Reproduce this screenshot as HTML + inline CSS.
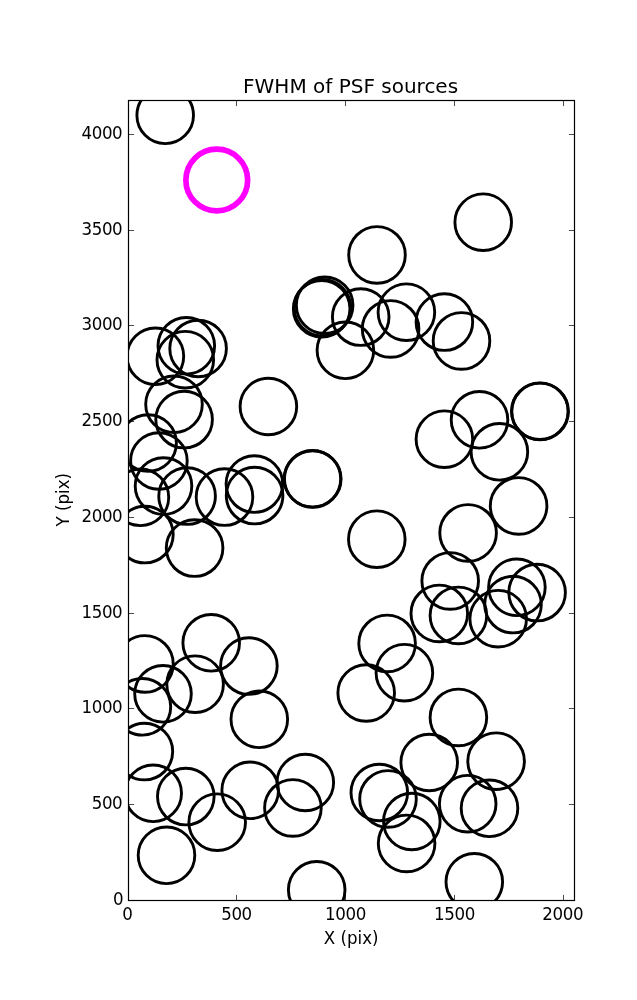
<!DOCTYPE html>
<html lang="en"><head><meta charset="utf-8"><title>FWHM of PSF sources</title>
<style>
html,body{margin:0;padding:0;background:#fff;}
body{width:637px;height:1000px;overflow:hidden;}
svg{display:block;}
text{font-family:"DejaVu Sans","Liberation Sans",sans-serif;fill:#000;}
.tk{font-size:16.67px;letter-spacing:-0.4px;}
.lb{font-size:16.67px;}
.tt{font-size:20px;}
</style></head><body>
<svg width="637" height="1000" viewBox="0 0 637 1000">
<rect x="0" y="0" width="637" height="1000" fill="#ffffff"/>
<defs><clipPath id="ax"><rect x="128" y="100" width="446.5" height="800.5"/></clipPath></defs>
<g clip-path="url(#ax)" fill="none" stroke="#000" stroke-width="2.9">
<circle cx="165.20" cy="115.30" r="28.3"/>
<circle cx="155.40" cy="356.30" r="28.3"/>
<circle cx="186.30" cy="345.80" r="28.3"/>
<circle cx="198.10" cy="348.50" r="28.3"/>
<circle cx="185.30" cy="359.70" r="28.3"/>
<circle cx="174.00" cy="404.30" r="28.3"/>
<circle cx="184.10" cy="419.60" r="28.3"/>
<circle cx="268.40" cy="406.50" r="28.3"/>
<circle cx="148.10" cy="443.00" r="28.3"/>
<circle cx="158.90" cy="461.00" r="28.3"/>
<circle cx="163.50" cy="486.10" r="28.3"/>
<circle cx="140.40" cy="497.30" r="28.3"/>
<circle cx="187.10" cy="496.10" r="28.3"/>
<circle cx="224.50" cy="497.10" r="28.3"/>
<circle cx="254.40" cy="484.10" r="28.3"/>
<circle cx="254.60" cy="495.60" r="28.3"/>
<circle cx="144.90" cy="534.60" r="28.3"/>
<circle cx="194.60" cy="548.10" r="28.3"/>
<circle cx="144.90" cy="663.90" r="28.3"/>
<circle cx="211.20" cy="642.80" r="28.3"/>
<circle cx="248.90" cy="666.10" r="28.3"/>
<circle cx="195.10" cy="684.20" r="28.3"/>
<circle cx="163.00" cy="693.80" r="28.3"/>
<circle cx="142.40" cy="706.80" r="28.3"/>
<circle cx="259.30" cy="719.30" r="28.3"/>
<circle cx="144.40" cy="751.60" r="28.3"/>
<circle cx="153.20" cy="793.30" r="28.3"/>
<circle cx="185.80" cy="796.60" r="28.3"/>
<circle cx="217.20" cy="822.20" r="28.3"/>
<circle cx="250.20" cy="790.30" r="28.3"/>
<circle cx="166.50" cy="855.30" r="28.3"/>
<circle cx="377.00" cy="254.90" r="28.3"/>
<circle cx="321.65" cy="308.75" r="28.3"/>
<circle cx="322.50" cy="307.80" r="28.3"/>
<circle cx="324.65" cy="305.25" r="28.3"/>
<circle cx="360.70" cy="317.10" r="28.3"/>
<circle cx="345.40" cy="350.30" r="28.3"/>
<circle cx="390.60" cy="328.90" r="28.3"/>
<circle cx="406.40" cy="312.20" r="28.3"/>
<circle cx="444.40" cy="322.10" r="28.3"/>
<circle cx="461.50" cy="340.90" r="28.3"/>
<circle cx="312.45" cy="478.80" r="28.3"/>
<circle cx="312.75" cy="479.00" r="28.3"/>
<circle cx="376.80" cy="539.20" r="28.3"/>
<circle cx="387.10" cy="643.40" r="28.3"/>
<circle cx="404.40" cy="672.70" r="28.3"/>
<circle cx="366.20" cy="693.00" r="28.3"/>
<circle cx="305.30" cy="782.50" r="28.3"/>
<circle cx="292.90" cy="807.90" r="28.3"/>
<circle cx="379.30" cy="792.50" r="28.3"/>
<circle cx="388.00" cy="798.90" r="28.3"/>
<circle cx="411.80" cy="821.50" r="28.3"/>
<circle cx="406.60" cy="843.40" r="28.3"/>
<circle cx="316.70" cy="889.80" r="28.3"/>
<circle cx="483.20" cy="222.20" r="28.3"/>
<circle cx="539.80" cy="411.20" r="28.3"/>
<circle cx="540.10" cy="411.40" r="28.3"/>
<circle cx="479.50" cy="419.80" r="28.3"/>
<circle cx="444.40" cy="439.20" r="28.3"/>
<circle cx="499.40" cy="451.80" r="28.3"/>
<circle cx="518.60" cy="505.90" r="28.3"/>
<circle cx="468.10" cy="532.90" r="28.3"/>
<circle cx="450.20" cy="580.90" r="28.3"/>
<circle cx="516.90" cy="587.30" r="28.3"/>
<circle cx="537.10" cy="592.60" r="28.3"/>
<circle cx="513.00" cy="604.60" r="28.3"/>
<circle cx="498.20" cy="618.70" r="28.3"/>
<circle cx="458.40" cy="615.40" r="28.3"/>
<circle cx="439.30" cy="613.40" r="28.3"/>
<circle cx="458.40" cy="717.40" r="28.3"/>
<circle cx="496.10" cy="761.20" r="28.3"/>
<circle cx="429.20" cy="762.50" r="28.3"/>
<circle cx="467.70" cy="803.70" r="28.3"/>
<circle cx="489.50" cy="808.30" r="28.3"/>
<circle cx="474.30" cy="881.80" r="28.3"/>
<circle cx="216.75" cy="180.00" r="30.9" stroke="#ff00ff" stroke-width="5.7"/>
</g>
<g stroke="#000" stroke-width="0.7" fill="none">
<line x1="128.5" y1="900.5" x2="128.5" y2="894.9"/>
<line x1="128.5" y1="100.5" x2="128.5" y2="106.1"/>
<line x1="236.5" y1="900.5" x2="236.5" y2="894.9"/>
<line x1="236.5" y1="100.5" x2="236.5" y2="106.1"/>
<line x1="345.5" y1="900.5" x2="345.5" y2="894.9"/>
<line x1="345.5" y1="100.5" x2="345.5" y2="106.1"/>
<line x1="454.5" y1="900.5" x2="454.5" y2="894.9"/>
<line x1="454.5" y1="100.5" x2="454.5" y2="106.1"/>
<line x1="563.5" y1="900.5" x2="563.5" y2="894.9"/>
<line x1="563.5" y1="100.5" x2="563.5" y2="106.1"/>
<line x1="128.5" y1="900.5" x2="134.1" y2="900.5"/>
<line x1="574.5" y1="900.5" x2="568.9" y2="900.5"/>
<line x1="128.5" y1="804.5" x2="134.1" y2="804.5"/>
<line x1="574.5" y1="804.5" x2="568.9" y2="804.5"/>
<line x1="128.5" y1="708.5" x2="134.1" y2="708.5"/>
<line x1="574.5" y1="708.5" x2="568.9" y2="708.5"/>
<line x1="128.5" y1="613.5" x2="134.1" y2="613.5"/>
<line x1="574.5" y1="613.5" x2="568.9" y2="613.5"/>
<line x1="128.5" y1="517.5" x2="134.1" y2="517.5"/>
<line x1="574.5" y1="517.5" x2="568.9" y2="517.5"/>
<line x1="128.5" y1="421.5" x2="134.1" y2="421.5"/>
<line x1="574.5" y1="421.5" x2="568.9" y2="421.5"/>
<line x1="128.5" y1="325.5" x2="134.1" y2="325.5"/>
<line x1="574.5" y1="325.5" x2="568.9" y2="325.5"/>
<line x1="128.5" y1="230.5" x2="134.1" y2="230.5"/>
<line x1="574.5" y1="230.5" x2="568.9" y2="230.5"/>
<line x1="128.5" y1="134.5" x2="134.1" y2="134.5"/>
<line x1="574.5" y1="134.5" x2="568.9" y2="134.5"/>
</g>
<rect x="128.5" y="100.5" width="446" height="800" fill="none" stroke="#000" stroke-width="1.2"/>
<text class="tk" transform="translate(127.3,920) scale(1,1.07)" text-anchor="middle">0</text>
<text class="tk" transform="translate(236.5,920) scale(1,1.07)" text-anchor="middle">500</text>
<text class="tk" transform="translate(345.5,920) scale(1,1.07)" text-anchor="middle">1000</text>
<text class="tk" transform="translate(454.5,920) scale(1,1.07)" text-anchor="middle">1500</text>
<text class="tk" transform="translate(562.7,920) scale(1,1.07)" text-anchor="middle">2000</text>
<text class="tk" transform="translate(123.1,904.9) scale(1,1.07)" text-anchor="end">0</text>
<text class="tk" transform="translate(122.3,808.9) scale(1,1.07)" text-anchor="end">500</text>
<text class="tk" transform="translate(122.3,712.9) scale(1,1.07)" text-anchor="end">1000</text>
<text class="tk" transform="translate(122.3,617.9) scale(1,1.07)" text-anchor="end">1500</text>
<text class="tk" transform="translate(122.3,521.9) scale(1,1.07)" text-anchor="end">2000</text>
<text class="tk" transform="translate(122.3,425.9) scale(1,1.07)" text-anchor="end">2500</text>
<text class="tk" transform="translate(122.3,329.9) scale(1,1.07)" text-anchor="end">3000</text>
<text class="tk" transform="translate(122.3,234.9) scale(1,1.07)" text-anchor="end">3500</text>
<text class="tk" transform="translate(122.3,138.9) scale(1,1.07)" text-anchor="end">4000</text>
<text class="lb" transform="translate(351.2,943.9) scale(1,1.07)" text-anchor="middle">X (pix)</text>
<text class="lb" transform="translate(69,499.7) rotate(-90) scale(1,1.07)" text-anchor="middle">Y (pix)</text>
<text class="tt" x="350.6" y="93.4" text-anchor="middle">FWHM of PSF sources</text>
</svg></body></html>
